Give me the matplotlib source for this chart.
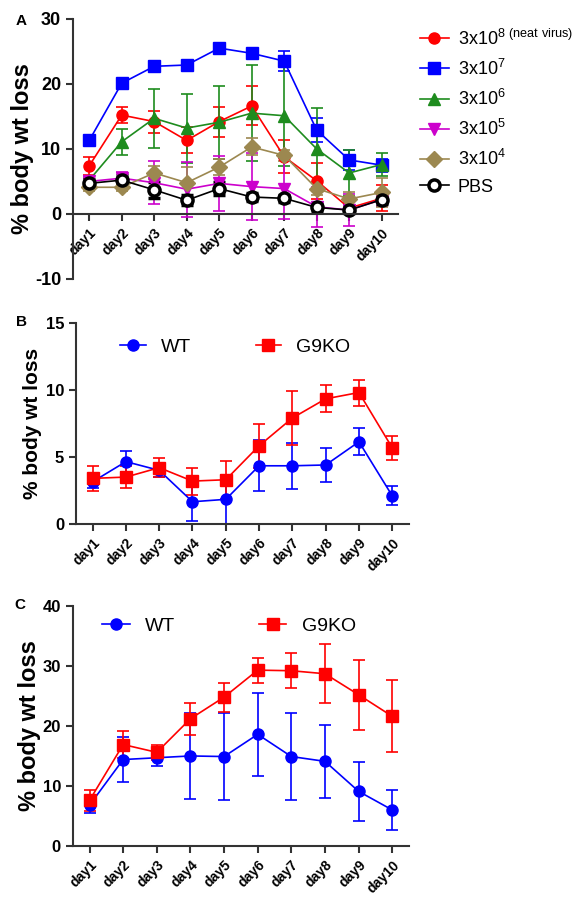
import matplotlib
matplotlib.use("Agg")
import matplotlib.pyplot as plt

plt.rcParams['font.family'] = ['Liberation Sans', 'DejaVu Sans']
plt.rcParams['mathtext.default'] = 'regular'
plt.rcParams['axes.unicode_minus'] = False

days = ['day1', 'day2', 'day3', 'day4', 'day5', 'day6', 'day7', 'day8', 'day9', 'day10']
x = list(range(1, 11))

# panel A - virus dose
dose_labels = ['3x10$^{8\\ (neat\\ virus)}$', '3x10$^{7}$', '3x10$^{6}$', '3x10$^{5}$', '3x10$^{4}$', 'PBS']
d8_mean = [7.4, 15.2, 14.2, 11.3, 14.2, 16.6, 8.8, 5.1, 0.9, 2.4]
d8_err = [1.4, 1.2, 1.7, 2.0, 2.3, 3.0, 2.5, 2.8, 0.9, 2.0]
d7_mean = [11.3, 20.1, 22.7, 22.9, 25.5, 24.7, 23.5, 12.9, 8.3, 7.5]
d7_err = [0.5, 0.6, 0.4, 0.3, 0.4, 0.6, 1.5, 1.8, 1.5, 1.0]
d6_mean = [5.2, 11.1, 14.7, 13.2, 14.1, 15.5, 15.1, 10.0, 6.3, 7.6]
d6_err = [0.6, 2.0, 4.5, 5.3, 5.6, 7.4, 7.8, 6.3, 3.6, 1.8]
d5_mean = [5.0, 5.5, 4.8, 3.8, 4.7, 4.2, 3.9, 1.1, 0.6, 2.2]
d5_err = [0.5, 1.0, 3.3, 4.2, 4.2, 5.2, 4.7, 3.1, 2.4, 1.0]
d4_mean = [4.1, 4.1, 6.3, 4.8, 7.2, 10.3, 9.0, 3.9, 2.3, 3.3]
d4_err = [0.5, 0.5, 1.0, 2.4, 1.2, 1.3, 0.8, 1.0, 1.0, 2.2]
pbs_mean = [4.7, 5.2, 3.7, 2.1, 3.9, 2.6, 2.4, 1.0, 0.6, 2.2]
pbs_err = [0.6, 0.8, 1.2, 0.8, 1.0, 0.6, 0.5, 0.5, 0.5, 0.6]

# panel B
b_wt = [3.15, 4.65, 4.0, 1.66, 1.84, 4.34, 4.34, 4.4, 6.13, 2.1]
b_wt_err = [0.5, 0.8, 0.5, 1.4, 1.84, 1.9, 1.7, 1.3, 1.0, 0.7]
b_ko = [3.4, 3.5, 4.2, 3.2, 3.3, 5.83, 7.9, 9.33, 9.8, 5.68]
b_ko_err = [0.95, 0.8, 0.7, 1.0, 1.4, 1.66, 2.0, 1.0, 0.97, 0.9]

# panel C
c_wt = [6.8, 14.4, 14.7, 15.0, 14.9, 18.6, 14.9, 14.1, 9.1, 6.0]
c_wt_err = [1.3, 3.8, 1.4, 7.1, 7.2, 6.9, 7.2, 6.1, 4.9, 3.3]
c_ko = [7.6, 16.9, 15.6, 21.2, 24.8, 29.3, 29.2, 28.7, 25.2, 21.6]
c_ko_err = [1.7, 2.2, 1.2, 2.7, 2.4, 2.1, 2.9, 4.9, 5.8, 6.0]

spine_col = '#333333'


def style_axes(ax, yticks, ysize):
    ax.spines['top'].set_visible(False)
    ax.spines['right'].set_visible(False)
    for s in ['left', 'bottom']:
        ax.spines[s].set_linewidth(1.5)
        ax.spines[s].set_color(spine_col)
    ax.set_xlim(0.5, 10.5)
    ax.set_yticks(yticks)
    ax.set_ylim(yticks[0], yticks[-1])
    ax.set_xticks(x)
    ax.set_xticklabels(days, rotation=45, ha='right', rotation_mode='anchor',
                       fontsize=10, fontweight='bold')
    ax.tick_params(axis='both', color=spine_col, width=1.5, length=5)
    for t in ax.get_yticklabels():
        t.set_fontsize(ysize)
        t.set_fontweight('bold')


def series(ax, m, e, col, marker, label, **kw):
    c = ax.errorbar(x, m, yerr=e, color=col, marker=marker, lw=1.2, elinewidth=1.2,
                    capsize=4, capthick=1.2, markersize=8, label=label, **kw)
    return c[0]


fig = plt.figure(figsize=(5.73, 8.97), dpi=100)

# ---- A
axA = fig.add_axes([0.1274, 0.689, 0.567, 0.290])
axA.spines['bottom'].set_position(('data', 0))
hA = [
    series(axA, d8_mean, d8_err, '#ff0000', 'o', dose_labels[0]),
    series(axA, d7_mean, d7_err, '#0000ff', 's', dose_labels[1]),
    series(axA, d6_mean, d6_err, '#1e8c1e', '^', dose_labels[2]),
    series(axA, d5_mean, d5_err, '#cc00cc', 'v', dose_labels[3]),
    series(axA, d4_mean, d4_err, '#9c8850', 'D', dose_labels[4]),
    series(axA, pbs_mean, pbs_err, 'black', 'o', dose_labels[5], mfc='white', mew=2.5),
]
style_axes(axA, [-10, 0, 10, 20, 30], 13)
axA.set_ylabel('% body wt loss', fontsize=17, fontweight='bold', labelpad=1)
axA.legend(handles=hA, labels=dose_labels, loc='upper left', bbox_to_anchor=(1.045, 0.99),
           frameon=False, fontsize=13, handlelength=1.6, labelspacing=0.55,
           handletextpad=0.5, borderaxespad=0)

# ---- B
axB = fig.add_axes([0.1326, 0.4158, 0.581, 0.2244])
hB = [series(axB, b_wt, b_wt_err, '#0000ff', 'o', 'WT'),
      series(axB, b_ko, b_ko_err, '#ff0000', 's', 'G9KO')]
style_axes(axB, [0, 5, 10, 15], 12)
axB.set_ylabel('% body wt loss', fontsize=15, fontweight='bold', labelpad=3)
axB.legend(handles=hB, labels=['WT', 'G9KO'], loc='upper left', bbox_to_anchor=(0.11, 0.96),
           ncol=2, frameon=False, fontsize=14, handlelength=1.3, columnspacing=3.3,
           handletextpad=0.8, borderaxespad=0)

# ---- C
axC = fig.add_axes([0.1269, 0.0569, 0.587, 0.2676])
hC = [series(axC, c_wt, c_wt_err, '#0000ff', 'o', 'WT'),
      series(axC, c_ko, c_ko_err, '#ff0000', 's', 'G9KO')]
style_axes(axC, [0, 10, 20, 30, 40], 12)
axC.set_ylabel('% body wt loss', fontsize=17, fontweight='bold', labelpad=1)
axC.legend(handles=hC, labels=['WT', 'G9KO'], loc='upper left', bbox_to_anchor=(0.065, 0.985),
           ncol=2, frameon=False, fontsize=14, handlelength=1.4, columnspacing=4.3,
           handletextpad=0.8, borderaxespad=0)

fig.text(0.028, 0.977, 'A', fontsize=11, fontweight='bold', va='center')
fig.text(0.028, 0.641, 'B', fontsize=11, fontweight='bold', va='center')
fig.text(0.025, 0.326, 'C', fontsize=11, fontweight='bold', va='center')

plt.savefig('out.png', dpi=100)
